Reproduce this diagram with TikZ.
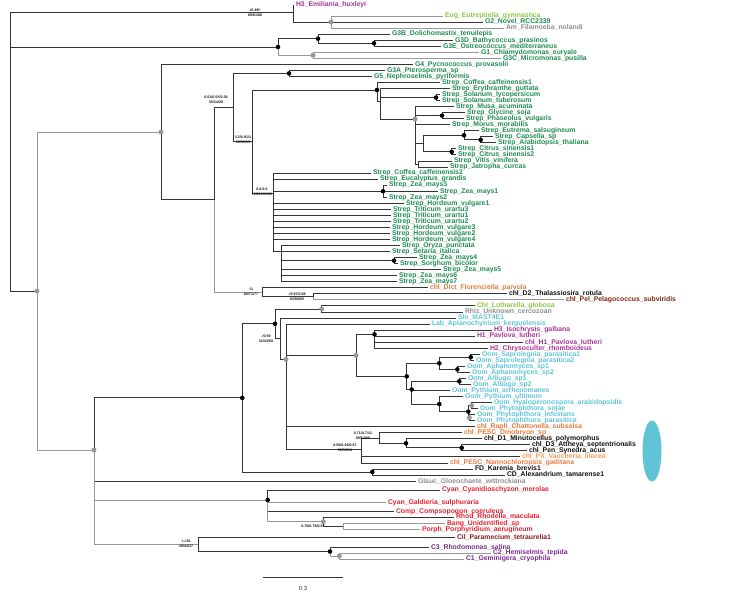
\documentclass[tikz,border=0pt]{standalone}
\usepackage{fontspec}
\setmainfont{Liberation Sans}
\usetikzlibrary{shapes.geometric}
\definecolor{lc}{HTML}{353535}
\definecolor{lcg}{HTML}{999999}
\definecolor{dotg}{HTML}{999999}
\definecolor{cg}{HTML}{1E8B50}
\definecolor{clg}{HTML}{8DC641}
\definecolor{cgr}{HTML}{8E8E8E}
\definecolor{cmg}{HTML}{A83398}
\definecolor{ccy}{HTML}{5EC4D6}
\definecolor{cor}{HTML}{E67A3C}
\definecolor{cor2}{HTML}{F29A5C}
\definecolor{cbr}{HTML}{7B2A0E}
\definecolor{crd}{HTML}{E3222F}
\definecolor{cdr}{HTML}{8A1B1B}
\definecolor{cpu}{HTML}{7B2C8E}
\definecolor{cbk}{HTML}{111111}
\newcommand\lff{\fontsize{6.85}{7}\selectfont\bfseries}
\newcommand\supff{\fontsize{3.6}{4.8}\selectfont\bfseries}
\tikzset{
  br/.style={draw=lc, line width=0.9pt},
  brg/.style={draw=lcg, line width=0.9pt},
  lf/.style={anchor=west, inner xsep=2pt, inner ysep=0pt, outer sep=0pt, font=\lff, text height=5pt, text depth=1.4pt},
  bdot/.style={circle, fill=black, inner sep=0pt, minimum size=4.6pt},
  gdot/.style={circle, fill=dotg, inner sep=0pt, minimum size=5pt},
  suplab/.style={font=\supff, inner sep=0pt, align=center, text=cbk}
}
% [style]{name}{parent}{x}{y}{color}{text}
\newcommand\lfx[7][br]{\node[lf,text=#6] (#2) at (#4,#5) {#7};\draw[#1] (#3) |- (#2.west);}
% [style]{name}{parent}{x}{y}
\newcommand\inn[5][br]{\coordinate (#2) at (#4,#5);\draw[#1] (#3) |- (#2);}
\begin{document}
\begin{tikzpicture}[x=1pt,y=-1pt]
\path[use as bounding box] (0,0) rectangle (740,592);
\coordinate (R) at (10,150);
% ---------- H3 / Eug clade
\inn{HE}{R}{293}{12.5}
\lfx{lH3E}{HE}{294}{5}{cmg}{H3\_Emiliania\_huxleyi}
\inn{EG}{HE}{331}{22}
\lfx[brg]{lEug}{EG}{443}{16}{clg}{Eug\_Eutreptiella\_gymnastica}
\lfx{lG2}{EG}{483}{22}{cg}{G2\_Novel\_RCC2339}
\lfx[brg]{lAm}{EG}{504}{28.1}{cgr}{Am\_Filamoeba\_nolandi}
% ---------- prasinophytes
\inn{A}{R}{278}{46.95}
\inn{B}{A}{318}{38.65}
\lfx{lG3B}{B}{390}{34.1}{cg}{G3B\_Dolichomastix\_tenuilepis}
\inn{D}{B}{374}{43.2}
\lfx{lG3D}{D}{453}{40.2}{cg}{G3D\_Bathycoccus\_prasinos}
\lfx{lG3E}{D}{441}{46.2}{cg}{G3E\_Ostreococcus\_mediterraneus}
\inn[brg]{C}{A}{313}{55.25}
\lfx[brg]{lG1}{C}{479}{52.2}{cg}{G1\_Chlamydomonas\_euryale}
\lfx[brg]{lG3C}{C}{501}{58.3}{cg}{G3C\_Micromonas\_pusilla}
% ---------- big clade
\inn{N37}{R}{37}{291}
\inn[brg]{N161}{N37}{161}{132}
\lfx{lG4}{N161}{413}{64.3}{cg}{G4\_Pycnococcus\_provasolii}
\inn{N214}{N161}{214}{199.6}
\inn{N233}{N214}{233}{107.5}
\inn{GA}{N233}{289}{73.4}
\lfx{lG3A}{GA}{385}{70.4}{cg}{G3A\_Pterosperma\_sp}
\lfx{lG5}{GA}{372}{76.4}{cg}{G5\_Nephroselmis\_pyriformis}
\inn{N252}{N233}{252}{141.5}
\inn{P}{N252}{377}{90}
\lfx{lCof1}{P}{440}{82.4}{cg}{Strep\_Coffea\_caffeinensis1}
\inn{Q}{P}{380}{101}
\lfx{lEry}{Q}{450}{88.5}{cg}{Strep\_Erythranthe\_guttata}
\inn{SOL}{Q}{436}{97.55}
\lfx{lSol1}{SOL}{440}{94.5}{cg}{Strep\_Solanum\_lycopersicum}
\lfx{lSol2}{SOL}{440}{100.6}{cg}{Strep\_Solanum\_tuberosum}
\inn{RR}{Q}{415}{119}
\lfx{lMusa}{RR}{454}{106.6}{cg}{Strep\_Musa\_acuminata}
\inn{GP}{RR}{442}{115.65}
\lfx{lGly}{GP}{465}{112.6}{cg}{Strep\_Glycine\_soja}
\lfx{lPha}{GP}{464}{118.7}{cg}{Strep\_Phaseolus\_vulgaris}
\lfx{lMor}{RR}{450}{124.7}{cg}{Strep\_Morus\_morabilis}
\inn{U}{RR}{423}{143.6}
\inn{E1}{U}{464}{135.3}
\lfx{lEut}{E1}{479}{130.8}{cg}{Strep\_Eutrema\_salsugineum}
\inn{E2}{E1}{480.7}{139.8}
\lfx{lCap}{E2}{493}{136.8}{cg}{Strep\_Capsella\_sp}
\lfx{lAra}{E2}{496}{142.8}{cg}{Strep\_Arabidopsis\_thaliana}
\inn{CIT}{U}{451.7}{151.9}
\lfx{lCit1}{CIT}{456}{148.9}{cg}{Strep\_Citrus\_sinensis1}
\lfx{lCit2}{CIT}{456}{154.9}{cg}{Strep\_Citrus\_sinensis2}
\inn{V}{RR}{418}{164}
\lfx{lVit}{V}{452}{161}{cg}{Strep\_Vitis\_vinifera}
\lfx{lJat}{V}{448}{167}{cg}{Strep\_Jatropha\_curcas}
\inn{M}{N252}{273}{193}
\lfx{lCof2}{M}{371}{173}{cg}{Strep\_Coffea\_caffeinensis2}
\lfx{lEuc}{M}{378}{179.1}{cg}{Strep\_Eucalyptus\_grandis}
\inn{ZEA}{M}{383}{191.2}
\lfx{lZea3}{ZEA}{387}{185.1}{cg}{Strep\_Zea\_mays3}
\lfx{lZea1}{ZEA}{438}{191.2}{cg}{Strep\_Zea\_mays1}
\lfx{lZea2}{ZEA}{387}{197.2}{cg}{Strep\_Zea\_mays2}
\lfx{lHv1}{M}{404}{203.2}{cg}{Strep\_Hordeum\_vulgare1}
\lfx{lTu3}{M}{391}{209.3}{cg}{Strep\_Triticum\_urartu3}
\lfx{lTu1}{M}{391}{215.3}{cg}{Strep\_Triticum\_urartu1}
\lfx{lTu2}{M}{391}{221.4}{cg}{Strep\_Triticum\_urartu2}
\lfx{lHv3}{M}{390}{227.4}{cg}{Strep\_Hordeum\_vulgare3}
\lfx{lHv2}{M}{390}{233.4}{cg}{Strep\_Hordeum\_vulgare2}
\lfx{lHv4}{M}{390}{239.5}{cg}{Strep\_Hordeum\_vulgare4}
\inn{S}{M}{281.7}{251.6}
\lfx{lOry}{S}{400}{245.5}{cg}{Strep\_Oryza\_punctata}
\lfx{lSet}{S}{390}{251.6}{cg}{Strep\_Setaria\_italica}
\inn{SB}{S}{394}{260.6}
\lfx{lZea4}{SB}{417}{257.6}{cg}{Strep\_Zea\_mays4}
\lfx{lSor}{SB}{398}{263.6}{cg}{Strep\_Sorghum\_bicolor}
\lfx{lZea5}{S}{441}{269.7}{cg}{Strep\_Zea\_mays5}
\lfx{lZea6}{S}{397}{275.7}{cg}{Strep\_Zea\_mays6}
\lfx{lZea7}{S}{397}{281.8}{cg}{Strep\_Zea\_mays7}
\inn[brg]{X}{N214}{262.3}{292.3}
\lfx{lDict}{X}{428}{287.8}{cor}{chl\_Dict\_Florenciella\_parvula}
\inn{Y}{X}{313.3}{296.85}
\lfx{lD2}{Y}{507}{293.8}{cbk}{chl\_D2\_Thalassiosira\_rotula}
\lfx[brg]{lPel}{Y}{564}{299.9}{cbr}{chl\_Pel\_Pelagococcus\_subviridis}
% ---------- lower half
\inn[brg]{N94}{N37}{94}{450}
\inn{CA}{N94}{242.3}{397.9}
\inn{L}{CA}{275}{323.8}
\inn{LR}{L}{321.7}{308.95}
\lfx{lLot}{LR}{475}{305.9}{clg}{Chl\_Lotharella\_globosa}
\lfx{lRhiz}{LR}{463}{312}{cgr}{Rhiz\_Unknown\_cercozoan}
\inn{L2}{L}{280}{338.6}
\lfx{lSlo}{L2}{456}{318}{ccy}{Slo\_MAST4E1}
\inn{L3}{L2}{286}{359.3}
\lfx{lLab}{L3}{430}{324}{ccy}{Lab\_Aplanochytrium\_kerguelensis}
\inn{H}{L3}{356}{355.35}
\inn{HP}{H}{374.5}{334.3}
\lfx{lH3I}{HP}{492}{330.1}{cmg}{H3\_Isochrysis\_galbana}
\lfx{lH1P}{HP}{475}{336.1}{cmg}{H1\_Pavlova\_lutheri}
\lfx{lcH1}{HP}{523}{342.2}{cmg}{chl\_H1\_Pavlova\_lutheri}
\lfx{lH2}{HP}{488}{348.2}{cmg}{H2\_Chrysoculter\_rhomboideus}
\inn{O}{H}{406.7}{376.4}
\inn{SA}{O}{439.3}{363.3}
\inn{SAP}{SA}{470.7}{357.25}
\lfx{lSap1}{SAP}{480}{354.2}{ccy}{Oom\_Saprolegnia\_parasitica1}
\lfx{lSap2}{SAP}{474}{360.3}{ccy}{Oom\_Saprolegnia\_parasitica2}
\inn{APH}{SA}{457.3}{369.35}
\lfx{lAph1}{APH}{465}{366.3}{ccy}{Oom\_Aphanomyces\_sp1}
\lfx{lAph2}{APH}{470}{372.4}{ccy}{Oom\_Aphanomyces\_sp2}
\inn{AP}{O}{411.7}{389.5}
\inn{ALB}{AP}{459.3}{381.4}
\lfx{lAlb1}{ALB}{466}{378.4}{ccy}{Oom\_Albugo\_sp1}
\lfx{lAlb2}{ALB}{471}{384.4}{ccy}{Oom\_Albugo\_sp2}
\lfx{lPyA}{AP}{450}{390.5}{ccy}{Oom\_Pythium\_arrhenomanes}
\inn{PP}{AP}{439.3}{404.05}
\lfx{lPyU}{PP}{463}{396.5}{ccy}{Oom\_Pythium\_ultimum}
\inn{PHY}{PP}{468.3}{411.6}
\inn{HS}{PHY}{471.7}{405.6}
\lfx{lHya}{HS}{492}{402.6}{ccy}{Oom\_Hyaloperonospora\_arabidopsidis}
\lfx{lPhS}{HS}{478}{408.6}{ccy}{Oom\_Phytophthora\_sojae}
\inn{IP}{PHY}{469.3}{417.65}
\lfx{lPhI}{IP}{475}{414.6}{ccy}{Oom\_Phytophthora\_infestans}
\lfx{lPhP}{IP}{475}{420.7}{ccy}{Oom\_Phytophthora\_parasitica}
\lfx{lRaph}{L3}{475}{426.7}{cor}{chl\_Raph\_Chattonella\_subsalsa}
\inn{DD}{L3}{361}{449}
\inn{DD2}{DD}{379.3}{438.05}
\lfx{lDino}{DD2}{462}{432.8}{cor}{chl\_PESC\_Dinobryon\_sp}
\inn{DIA}{DD2}{406}{443.3}
\lfx{lD1}{DIA}{482}{438.8}{cbk}{chl\_D1\_Minutocellus\_polymorphus}
\inn{DP}{DIA}{461.7}{447.85}
\lfx{lD3}{DP}{530}{444.8}{cbk}{chl\_D3\_Attheya\_septentrionalis}
\lfx{lPen}{DP}{527}{450.9}{cbk}{chl\_Pen\_Synedra\_acus}
\lfx{lPX}{DD}{520}{456.9}{cor2}{chl\_PX\_Vaucheria\_litorea}
\lfx{lNan}{DD}{448}{463}{cor}{chl\_PESC\_Nannochloropsis\_gaditana}
\inn{FDCD}{CA}{372.3}{472}
\lfx{lFD}{FDCD}{473}{469}{cbk}{FD\_Karenia\_brevis1}
\lfx{lCD}{FDCD}{505}{475}{cbk}{CD\_Alexandrium\_tamarense1}
\lfx{lGla}{N94}{416}{481.5}{cgr}{Glauc\_Gloeochaete\_wittrockiana}
\inn[brg]{RA}{N94}{267.7}{500}
\lfx{lCyC}{RA}{440}{490}{crd}{Cyan\_Cyanidioschyzon\_merolae}
\lfx[brg]{lCyG}{RA}{386}{502.3}{crd}{Cyan\_Galdieria\_sulphuraria}
\lfx{lComp}{RA}{394}{511.7}{crd}{Comp\_Compsopogon\_coeruleus}
\inn[brg]{RB}{RA}{323.3}{521.7}
\lfx{lRhod}{RB}{454}{517}{crd}{Rhod\_Rhodella\_maculata}
\inn{BP}{RB}{343.3}{526.3}
\lfx[brg]{lBang}{BP}{445}{523.3}{crd}{Bang\_Unidentified\_sp}
\lfx[brg]{lPorph}{BP}{420}{529.3}{crd}{Porph\_Porphyridium\_aerugineum}
\inn[brg]{CC}{N94}{198.3}{544.5}
\lfx{lCil}{CC}{455}{537.7}{cdr}{Cil\_Paramecium\_tetraurelia1}
\inn{CR}{CC}{330}{551.5}
\lfx{lC3}{CR}{429}{547.7}{cpu}{C3\_Rhodomonas\_salina}
\inn[brg]{C21}{CR}{339.3}{556}
\lfx[brg]{lC2}{C21}{491}{553}{cpu}{C2\_Hemiselmis\_tepida}
\lfx[brg]{lC1}{C21}{464}{559}{cpu}{C1\_Geminigera\_cryophila}
% ---------- dots
\foreach \n in {A,B,D,GA,P,SOL,GP,E1,E2,CIT,ZEA,SB,L,CA,HP,O,SA,SAP,APH,AP,ALB,PP,PHY,DIA,DP,FDCD,RA,CR}
  \node[bdot] (d\n) at (\n) {};
\foreach \n in {EG,C,N161,N37,N94,RR,LR,L3,H,HS,IP,RB,C21}
  \node[gdot] (d\n) at (\n) {};
% ---------- support values
\node[suplab] (s1) at (255,13) {-/0.89/-\\89/81/86};
\node[suplab] (s2) at (216,100) {0.01/0.55/0.38\\35/34/28};
\node[suplab] (s3) at (243,139.5) {3.5/0.91/1\\95/36/19};
\node[suplab] (s4) at (262,192) {0.0/1/1\\100/100/100};
\node[suplab] (s5) at (251,292) {-/1\\80/71/77};
\node[suplab] (s6) at (297,296.5) {-/0.97/0.98\\83/90/65};
\node[suplab] (s7) at (266,339) {-/0.59\\32/43/50};
\node[suplab] (s8) at (363,436) {0.71/0.71/1\\89/63/65};
\node[suplab] (s9) at (345,448) {0.56/0.69/0.67\\99/58/34};
\node[suplab] (s10) at (313,526.7) {0.78/0.78/0.97};
\node[suplab] (s11) at (186,544) {-/-/.81\\39/43/37};
% ---------- scale bar and marker
\coordinate (sb1) at (263,577);
\coordinate (sb2) at (343,577);
\draw[br] (sb1) -- (sb2);
\node[font=\fontsize{6}{7}\selectfont, text=lc] (sbl) at (303,588) {0.3};
\node[ellipse, fill=ccy, inner sep=0pt, minimum width=19pt, minimum height=61pt] (ell) at (652,451) {};
\end{tikzpicture}
\end{document}
